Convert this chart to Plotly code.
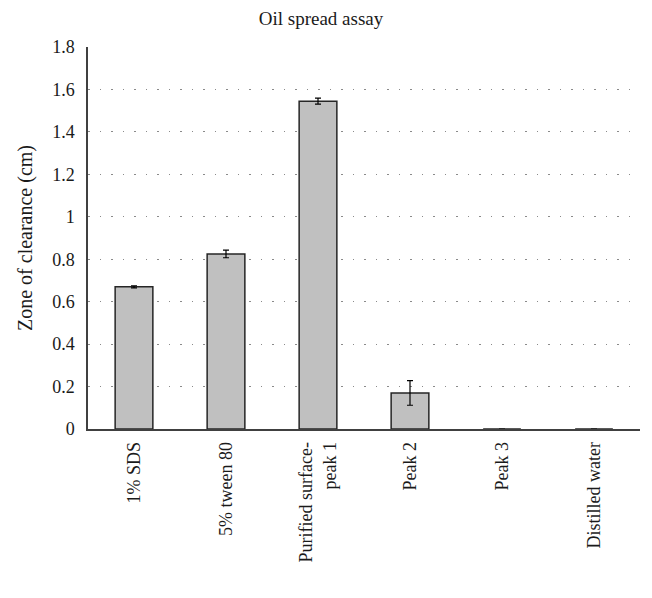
import plotly.graph_objects as go

categories = ['1% SDS', '5% tween 80', 'Purified surface-<br>peak 1', 'Peak 2', 'Peak 3', 'Distilled water']
clearance = [0.67, 0.825, 1.545, 0.17, 0.0, 0.0]
errors = [0.005, 0.018, 0.014, 0.058, 0.0, 0.0]

fig = go.Figure()

fig.add_trace(go.Bar(
    x=categories,
    y=clearance,
    width=0.41,
    marker=dict(color='#c0c0c0', line=dict(color='#262626', width=1.5)),
    error_y=dict(type='data', array=errors, color='black', thickness=1.2, width=3,
                 visible=True),
    showlegend=False
))

serif = 'Liberation Serif, Times New Roman, serif'

# page body adds an 8px offset, so the figure is a bit smaller than the window
fig.update_layout(
    title=dict(text='Oil spread assay', x=0.486, xanchor='center',
               y=0.983, yanchor='middle',
               font=dict(family=serif, size=19, color='#1a1a1a')),
    width=644, height=590,
    margin=dict(l=80, r=12, t=39, b=169),
    plot_bgcolor='white', paper_bgcolor='white',
    font=dict(family=serif, size=18, color='#1a1a1a'),
    bargap=0.59
)

fig.update_xaxes(
    tickangle=-90, showline=True, linecolor='#404040', linewidth=1.5,
    ticks='', showgrid=False, automargin=False, ticklabelstandoff=4
)

fig.update_yaxes(
    title=dict(text='Zone of clearance (cm)', standoff=14, font=dict(size=20)),
    range=[0, 1.8001], dtick=0.2, tickformat='~g',
    showline=True, linecolor='#404040', linewidth=1.5,
    showgrid=True, gridcolor='#8a8a8a', gridwidth=1, griddash='1.5px,10px',
    zeroline=False, ticks='', automargin=False, ticklabelstandoff=8
)

fig.write_html("out.html")
